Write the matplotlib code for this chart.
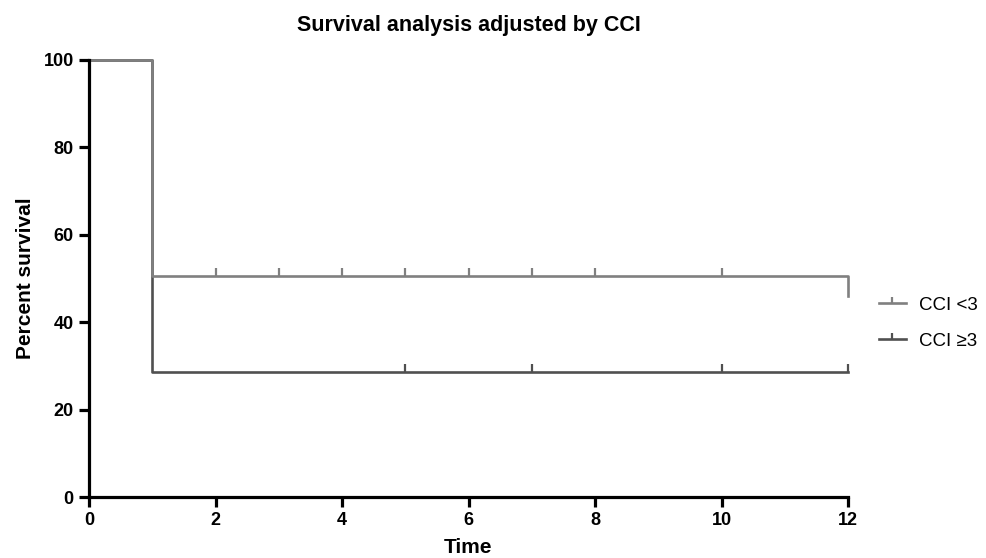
import matplotlib
matplotlib.use("Agg")
import matplotlib.pyplot as plt
from matplotlib.path import Path
from matplotlib.lines import Line2D

plt.rcParams['font.family'] = ['Liberation Sans', 'DejaVu Sans']

# Data
lo_times = [0, 1, 12]
lo_surv = [100, 50.6, 45.9]
lo_censor_t = [2, 3, 4, 5, 6, 7, 8, 10]
lo_censor_s = [50.6] * 8

hi_times = [0, 1, 12]
hi_surv = [100, 28.6, 28.6]
hi_censor_t = [5, 7, 10, 12]
hi_censor_s = [28.6] * 4

labels = ["CCI <3", "CCI \u22653"]
c_lo = "#808080"
c_hi = "#505050"

tick_marker = Path([(0, 0), (0, 1)], [Path.MOVETO, Path.LINETO])

fig = plt.figure(figsize=(9.86, 5.58), dpi=100)
ax = fig.add_axes([89/986, 1-497/558, (848-89)/986, (497-60)/558])

ax.step(hi_times, hi_surv, where='post', color=c_hi, lw=1.9, clip_on=False, zorder=3)
ax.step(lo_times, lo_surv, where='post', color=c_lo, lw=1.9, clip_on=False, zorder=4)
ax.plot(lo_censor_t, lo_censor_s, ls='none', marker=tick_marker, markersize=12,
        mew=1.6, color=c_lo, clip_on=False, zorder=4)
ax.plot(hi_censor_t, hi_censor_s, ls='none', marker=tick_marker, markersize=12,
        mew=1.6, color=c_hi, clip_on=False, zorder=3)

ax.set_xlim(0, 12)
ax.set_ylim(0, 100)
ax.set_xticks(range(0, 13, 2))
ax.set_yticks(range(0, 101, 20))
for s in ['top', 'right']:
    ax.spines[s].set_visible(False)
for s in ['left', 'bottom']:
    ax.spines[s].set_linewidth(2.3)
    ax.spines[s].set_color('black')
    ax.spines[s].set_zorder(5)
ax.tick_params(direction='out', length=7, width=2.3, colors='black', labelsize=13, pad=4)
for t in ax.get_xticklabels() + ax.get_yticklabels():
    t.set_fontweight('bold')

ax.set_title("Survival analysis adjusted by CCI", fontsize=15.5, fontweight='bold', pad=21)
ax.set_xlabel("Time", fontsize=15, fontweight='bold', labelpad=6)
ax.set_ylabel("Percent survival", fontsize=15, fontweight='bold', labelpad=6)

handles = [Line2D([], [], color=c_lo, lw=1.9, marker=tick_marker, markersize=9, mew=1.6),
           Line2D([], [], color=c_hi, lw=1.9, marker=tick_marker, markersize=9, mew=1.6)]
fig.legend(handles, labels, loc='center left', bbox_to_anchor=(862/986, 1-323/558),
           frameon=False, fontsize=13.5, handlelength=1.45, handletextpad=0.7,
           labelspacing=1.0)

fig.savefig("out.png", dpi=100)
